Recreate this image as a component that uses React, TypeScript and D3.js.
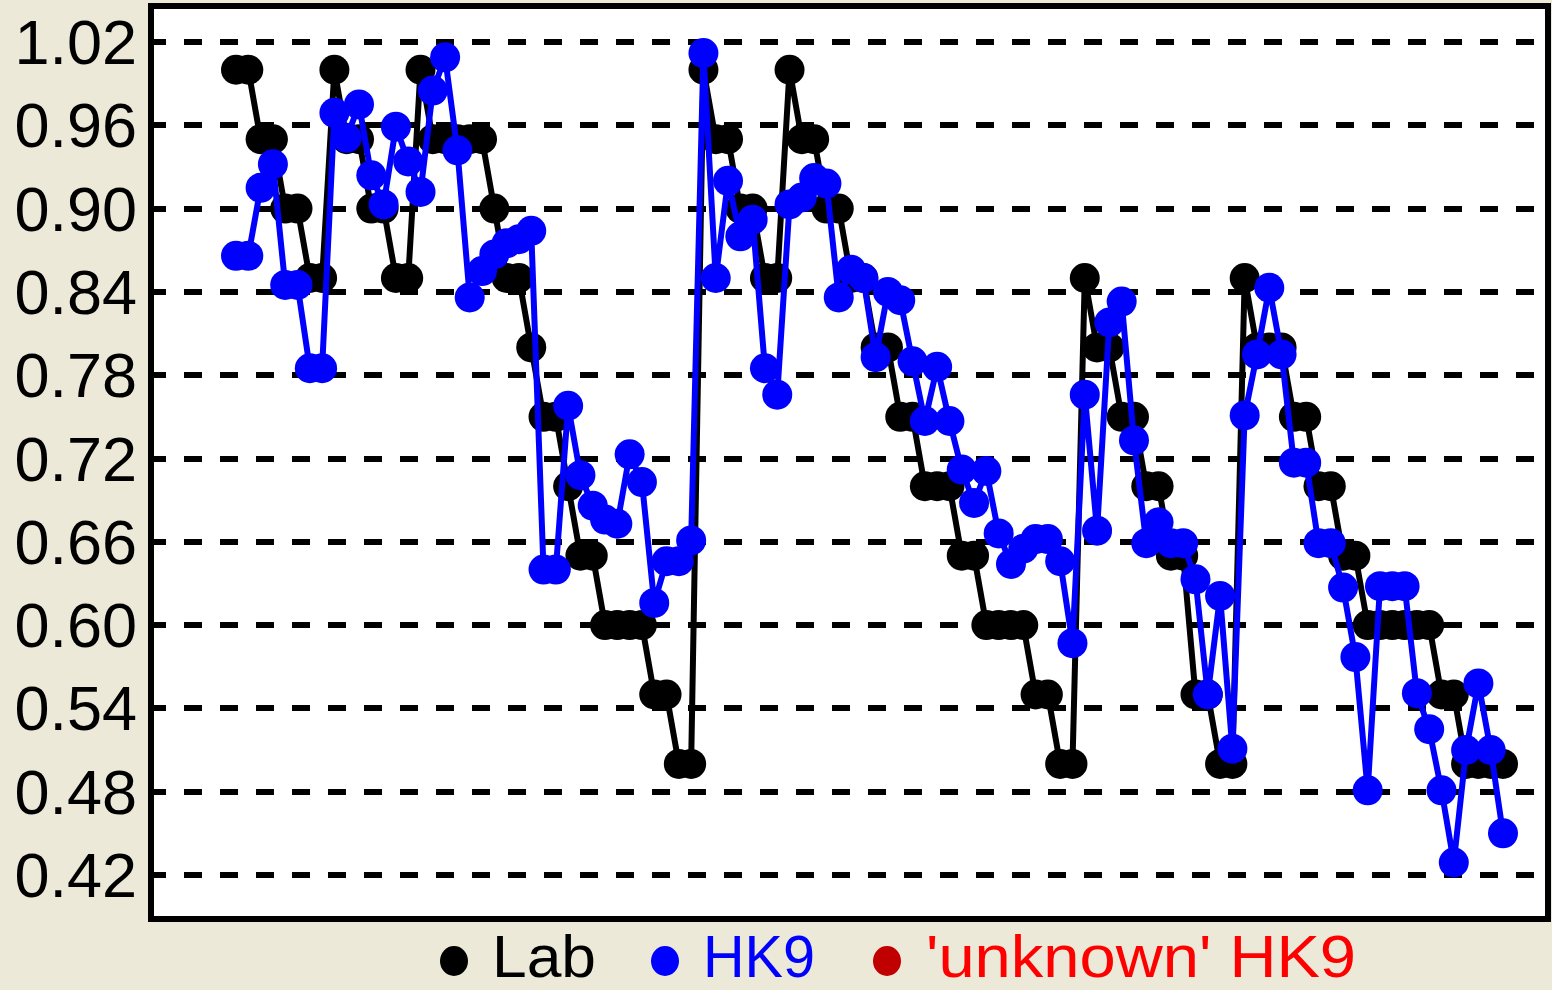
import React from "react";
import * as d3 from "d3";

// Laboratory reference values, one per sample (stepped levels)
const labValues: number[] = [
  1.0, 1.0, 0.95, 0.95, 0.9, 0.9, 0.85, 0.85,
  1.0, 0.95, 0.95, 0.9, 0.9, 0.85, 0.85,
  1.0, 0.95, 0.95, 0.95, 0.95, 0.95, 0.9, 0.85, 0.85, 0.8, 0.75, 0.75, 0.7,
  0.65, 0.65, 0.6, 0.6, 0.6, 0.6, 0.55, 0.55, 0.5, 0.5,
  1.0, 0.95, 0.95, 0.9, 0.9, 0.85, 0.85,
  1.0, 0.95, 0.95, 0.9, 0.9, 0.85, 0.85, 0.8, 0.8, 0.75, 0.75, 0.7, 0.7, 0.7,
  0.65, 0.65, 0.6, 0.6, 0.6, 0.6, 0.55, 0.55, 0.5, 0.5,
  0.85, 0.8, 0.8, 0.75, 0.75, 0.7, 0.7, 0.65, 0.65, 0.55, 0.55, 0.5, 0.5,
  0.85, 0.8, 0.8, 0.8, 0.75, 0.75, 0.7, 0.7, 0.65, 0.65,
  0.6, 0.6, 0.6, 0.6, 0.6, 0.6, 0.55, 0.55, 0.5, 0.5, 0.5, 0.5,
];

// HK9 predictions for the same samples
const hk9Values: number[] = [
  0.866, 0.866, 0.915, 0.932, 0.845, 0.845, 0.785, 0.785,
  0.969, 0.951, 0.975, 0.924, 0.903, 0.959, 0.934,
  0.912, 0.985, 1.009, 0.942, 0.836, 0.855, 0.867, 0.875, 0.878, 0.884, 0.64, 0.64, 0.758,
  0.708, 0.686, 0.676, 0.673, 0.723, 0.703, 0.616, 0.646, 0.646, 0.661,
  1.012, 0.85, 0.92, 0.88, 0.892, 0.785, 0.766,
  0.903, 0.908, 0.922, 0.918, 0.836, 0.856, 0.85, 0.793, 0.84, 0.834, 0.79, 0.747, 0.786, 0.747,
  0.712, 0.688, 0.711, 0.666, 0.644, 0.655, 0.662, 0.662, 0.646, 0.587,
  0.766, 0.668, 0.818, 0.833, 0.733, 0.659, 0.674, 0.659, 0.659, 0.633, 0.55, 0.621, 0.511,
  0.751, 0.795, 0.843, 0.795, 0.717, 0.717, 0.659, 0.659, 0.627, 0.577,
  0.481, 0.628, 0.628, 0.628, 0.551, 0.525, 0.481, 0.429, 0.51, 0.558, 0.51, 0.45,
];

// Y axis tick values
const yTicks: number[] = [0.42, 0.48, 0.54, 0.6, 0.66, 0.72, 0.78, 0.84, 0.9, 0.96, 1.02];

// Legend entries
const legendLabels: string[] = ["Lab", "HK9", "'unknown' HK9"];
const legendMarkerColors: string[] = ["#000000", "#0000ff", "#c00000"];
const legendTextColors: string[] = ["#000000", "#0000ff", "#ff0000"];

const W = 1552;
const H = 990;
const FONT = "'Liberation Sans', Arial, sans-serif";

export default function App() {
  const frame = { left: 151, top: 6, right: 1548, bottom: 919 };

  const x = d3
    .scaleLinear()
    .domain([0, labValues.length - 1])
    .range([236, 1503]);
  const y = d3.scaleLinear().domain([0.42, 1.02]).range([875, 42]);

  const line = d3
    .line<number>()
    .x((_, i) => x(i))
    .y((d) => y(d));

  const series = [
    { values: labValues, color: "#000000" },
    { values: hk9Values, color: "#0000ff" },
  ];

  // legend layout: marker centre, text start and text width for each entry
  const legendMarkerX = [454, 665, 887];
  const legendTextX = [492, 703, 926];
  const legendTextW = [104, 112, 430];

  return (
    <svg
      width={W}
      height={H}
      style={{ position: "absolute", left: 0, top: 0, display: "block" }}
    >
      <rect x={0} y={0} width={W} height={H} fill="#ece9d8" />
      <rect
        x={frame.left}
        y={frame.top}
        width={frame.right - frame.left}
        height={frame.bottom - frame.top}
        fill="#ffffff"
      />

      {/* dashed horizontal grid */}
      {yTicks.map((t) => (
        <line
          key={"g" + t}
          x1={148}
          x2={frame.right}
          y1={y(t)}
          y2={y(t)}
          stroke="#000"
          strokeWidth={6}
          strokeDasharray="18 18"
          shapeRendering="crispEdges"
        />
      ))}

      {/* tick labels */}
      {yTicks.map((t) => (
        <text
          key={"t" + t}
          x={137}
          y={y(t) + 22}
          textAnchor="end"
          fontFamily={FONT}
          fontSize={63}
          fill="#000"
        >
          {d3.format(".2f")(t)}
        </text>
      ))}

      {/* series: line then markers */}
      {series.map((s, si) => (
        <g key={"s" + si}>
          <path
            d={line(s.values) || ""}
            fill="none"
            stroke={s.color}
            strokeWidth={6}
            strokeLinejoin="miter"
          />
          {s.values.map((v, i) => (
            <circle key={i} cx={x(i)} cy={y(v)} r={15} fill={s.color} />
          ))}
        </g>
      ))}

      {/* frame border */}
      <rect
        x={frame.left}
        y={frame.top}
        width={frame.right - frame.left}
        height={frame.bottom - frame.top}
        fill="none"
        stroke="#000"
        strokeWidth={6}
        shapeRendering="crispEdges"
      />

      {/* legend */}
      {legendLabels.map((lab, i) => (
        <g key={"l" + i}>
          <ellipse
            cx={legendMarkerX[i]}
            cy={961}
            rx={14}
            ry={15}
            fill={legendMarkerColors[i]}
          />
          <text
            x={legendTextX[i]}
            y={977}
            fontFamily={FONT}
            fontSize={60}
            fill={legendTextColors[i]}
            textLength={legendTextW[i]}
            lengthAdjust="spacingAndGlyphs"
          >
            {lab}
          </text>
        </g>
      ))}
    </svg>
  );
}
